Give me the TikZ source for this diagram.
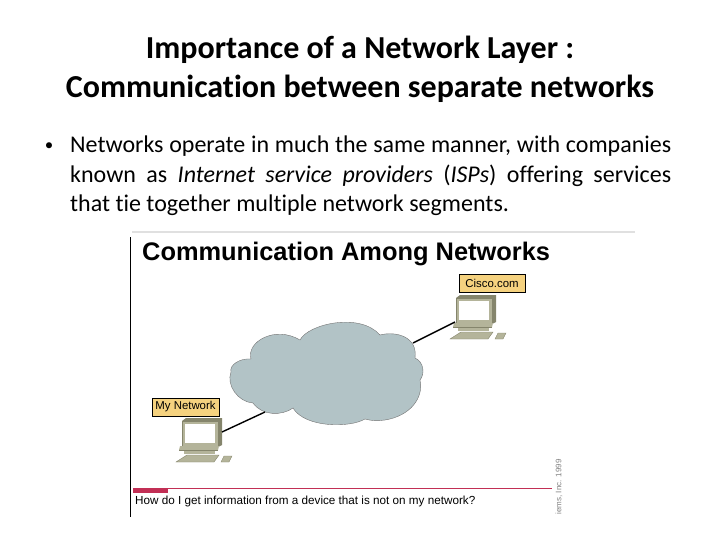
\documentclass[tikz,border=0pt]{standalone}
\usepackage{fontspec}
\setmainfont{Carlito}[Ligatures=CommonOff]
\newfontfamily\arialfont{Liberation Sans}
\definecolor{cloudgrey}{HTML}{B2C3C6}
\definecolor{tagyellow}{HTML}{F5D27F}
\definecolor{pcgrey}{HTML}{B4B49A}
\definecolor{pcdark}{HTML}{85856C}
\definecolor{rulered}{HTML}{C22F55}
\tikzset{
  titleline/.style={font=\fontsize{32}{36}\selectfont\bfseries, inner sep=0pt},
  tagbox/.style={draw=black, fill=tagyellow, line width=0.6pt, inner sep=0pt, minimum height=18pt, font=\arialfont\fontsize{11.4}{13}\selectfont},
  link/.style={draw=black, line width=1.4pt},
  pc/.pic={
    % monitor
    \fill [pcdark] (0,0) -- (4,-3) -- (40,-3) -- (40,24) -- (36,26) -- (0,26) -- cycle;
    \fill [pcgrey] (0,0) rectangle (36,25);
    \draw [pcdark, line width=0.4pt] (0,0) rectangle (36,25);
    \fill [white] (3,3) rectangle (33,22);
    % base
    \fill [pcgrey] (-2,25) -- (37,25) -- (36,29) -- (-3,29) -- cycle;
    \fill [pcdark] (-3,29) rectangle (36,30);
    \fill [pcgrey] (2,30) rectangle (33,33);
    % keyboard
    \fill [pcgrey] (5,34) -- (37,34) -- (32,41) -- (-6,41) -- cycle;
    \draw [pcdark, line width=0.4pt] (5,34) -- (37,34) -- (32,41) -- (-6,41) -- cycle;
    % mouse
    \fill [pcgrey] (42,35) -- (50,35) -- (47,41) -- (39,41) -- cycle;
    \draw [pcdark, line width=0.4pt] (42,35) -- (50,35) -- (47,41) -- (39,41) -- cycle;
  }
}
\begin{document}
\begin{tikzpicture}[x=1pt,y=-1pt]
  \useasboundingbox (0,0) rectangle (720,540);
  % title
  \node [titleline] (title1) at (360,50) {Importance of a Network Layer :};
  \node [titleline] (title2) at (360,89) {Communication between separate networks};
  % bullet text
  \node [inner sep=0pt] (bullet) at (49,147) {\fontsize{17}{20}\selectfont •};
  \node [anchor=north west, inner sep=0pt, text width=601pt, align=justify,
         font=\fontsize{24}{29.5}\selectfont] (body) at (70,136)
    {Networks operate in much the same manner, with companies\linebreak known as \textit{Internet service providers} (\textit{ISPs}) offering services\linebreak that tie together multiple network segments.};
  % picture frame
  \draw [black!12, line width=1.5pt] (132,232) -- (635,232);
  \draw [black, line width=0.9pt] (130.5,237) -- (130.5,517);
  \node [anchor=west, inner sep=0pt, font=\arialfont\bfseries\fontsize{25.4}{28}\selectfont] (head) at (142,254) {Communication Among Networks};
  % cloud
  \draw [fill=cloudgrey, draw=black!55, line width=0.4pt]
    (300,340) .. controls (308,324) and (360,312) .. (380,335)
    .. controls (395,331) and (418,336) .. (415,358)
    .. controls (424,362) and (425,374) .. (420,380)
    .. controls (424,398) and (410,416) .. (385,420)
    .. controls (378,421) and (372,421) .. (365,419)
    .. controls (350,428) and (305,428) .. (293,408)
    .. controls (282,416) and (262,416) .. (253,403)
    .. controls (238,402) and (226,385) .. (231,372)
    .. controls (229,365) and (240,358) .. (251,359)
    .. controls (246,342) and (275,325) .. (300,340) -- cycle;
  % computers
  \pic at (456,298) {pc};
  \pic at (182,421) {pc};
  \node [tagbox, minimum width=66pt] (cisco) at (492,283.5) {Cisco.com};
  \node [tagbox, minimum width=67pt] (mynet) at (185.5,407) {My Network};
  \coordinate (pctop) at (455,322);
  \coordinate (pcbot) at (222,432);
  \coordinate (cloudtop) at (413,343);
  \coordinate (cloudbot) at (265,412);
  \draw [link] (pctop) -- (cloudtop);
  \draw [link] (pcbot) -- (cloudbot);
  % bottom rule and caption
  \draw [rulered, line width=1pt] (133,488.7) -- (552,488.7);
  \fill [rulered] (133,488) rectangle (168,492.5);
  \node [anchor=west, inner sep=0pt, font=\arialfont\fontsize{11.7}{13}\selectfont] (caption) at (135,501) {How do I get information from a device that is not on my network?};
  \node [rotate=90, inner sep=0pt, text=black!50, font=\arialfont\fontsize{8}{10}\selectfont] (copyr) at (559,487) {iems, Inc. 1999};
\end{tikzpicture}
\end{document}
